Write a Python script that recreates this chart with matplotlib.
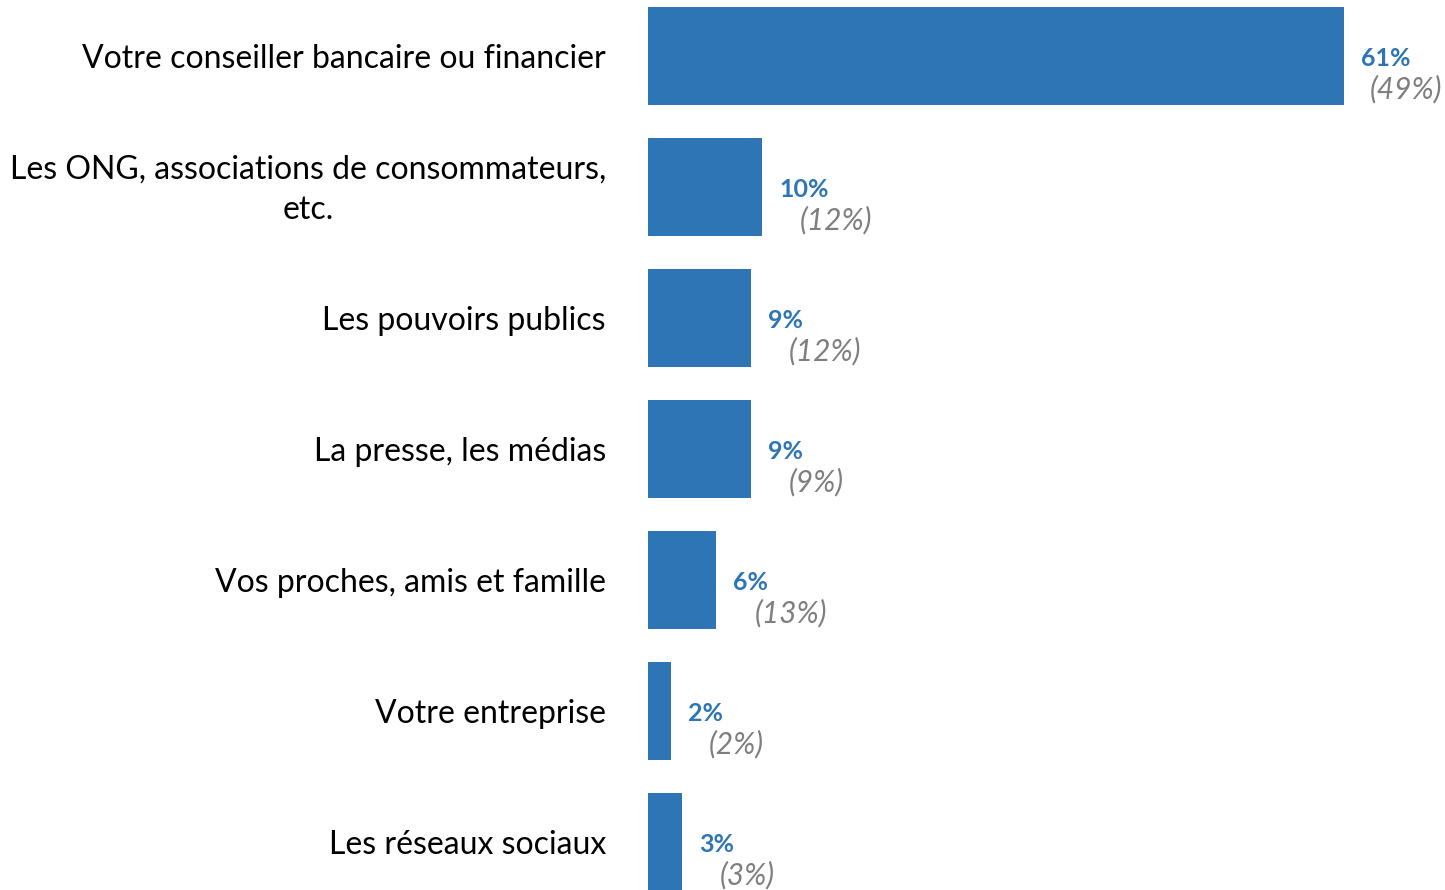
import numpy as np
import matplotlib.pyplot as plt

plt.rcParams['font.family'] = ['Lato', 'DejaVu Sans']

categories = ['Votre conseiller bancaire ou financier',
              'Les ONG, associations de consommateurs,\netc.',
              'Les pouvoirs publics',
              'La presse, les médias',
              'Vos proches, amis et famille',
              'Votre entreprise',
              'Les réseaux sociaux']
values = [61, 10, 9, 9, 6, 2, 3]
previous = [49, 12, 12, 9, 13, 2, 3]

blue = '#2E75B6'
grey = '#7F7F7F'

W, H = 1445, 890
fig = plt.figure(figsize=(W / 100, H / 100), dpi=100)
# axes start at the bars' zero line
ax = fig.add_axes([648 / W, 0, 1 - 648 / W, 1])
px_per_pct = 696 / 61
ax.set_xlim(0, (W - 648) / px_per_pct)
ax.set_ylim(6.366, -0.427)

y = np.arange(len(categories))
ax.barh(y, values, height=0.748, color=blue)

dx = 17 / px_per_pct
for yi, v, p in zip(y, values, previous):
    ax.text(v + dx, yi + 0.02, '%d%%' % v, color=blue, fontsize=18,
            fontweight='bold', ha='left', va='center')
    x2 = v + 38 / px_per_pct
    ha = 'left'
    if x2 + 85 / px_per_pct > ax.get_xlim()[1]:
        x2 = ax.get_xlim()[1] - 3 / px_per_pct
        ha = 'right'
    ax.text(x2, yi + 0.25, '(%d%%)' % p, color=grey, fontsize=21.5,
            style='italic', ha=ha, va='center')

for yi, c in zip(y, categories):
    ax.text(-42 / px_per_pct, yi + 0.02, c, fontsize=23, ha='right',
            va='center', multialignment='center', linespacing=1.45,
            color='black', clip_on=False)

ax.axis('off')
fig.savefig('out.png', dpi=100)
